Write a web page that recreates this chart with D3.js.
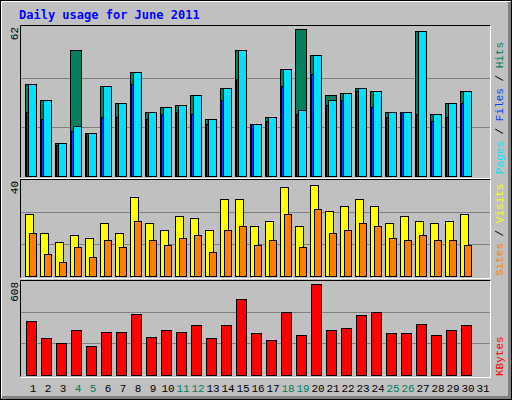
<!DOCTYPE html><html><head><meta charset="utf-8">
<script src="https://cdn.jsdelivr.net/npm/d3@7"></script>
<style>body{margin:0;background:#fff}svg{display:block}</style></head><body>
<script>
const days = d3.range(1,32);
const weekend = [4,5,11,12,18,19,25,26];
const hits  = [39,32,14,53,18,38,31,44,27,29,30,34,24,37,53,22,25,45,62,51,34,35,37,36,27,27,61,26,31,36];
const files = [39,32,14,21,18,38,31,44,27,29,30,34,24,37,53,22,25,45,28,51,32,35,37,36,27,27,61,26,31,36];
const pages = [27,24,13,19,18,25,25,39,24,26,27,26,22,32,41,22,23,38,26,43,30,32,36,29,25,27,26,23,25,31];
const visits= [26,18,14,17,16,22,18,33,22,19,25,24,19,32,32,21,23,37,21,38,27,29,32,29,22,25,23,22,23,26];
const sites = [18,9,6,12,8,15,12,23,15,13,16,17,10,19,21,13,15,26,12,28,18,19,22,21,16,15,17,15,15,13];
const kbytes= [348,234,208,291,183,278,278,393,246,285,278,323,234,317,489,272,221,406,259,584,291,304,387,406,266,266,329,253,291,317];
const maxHits=62, maxVisits=40, maxKB=608;

const W=512,H=400;
const svg=d3.select("body").append("svg").attr("width",W).attr("height",H);
svg.append("rect").attr("width",W).attr("height",H).attr("fill","#c0c0c0");
svg.append("path").attr("d","M1.5,398V1.5H510").attr("stroke","#fff").attr("fill","none");
svg.append("path").attr("d","M2,397.5H509.5V2").attr("stroke","#808080").attr("stroke-width",3).attr("fill","none");
svg.append("rect").attr("x",0.5).attr("y",0.5).attr("width",511).attr("height",399).attr("stroke","#000").attr("fill","none");

svg.append("text").attr("x",19).attr("y",19).text("Daily usage for June 2011")
  .attr("font-family","DejaVu Sans Mono").attr("font-weight","bold").attr("font-size",12).attr("fill","#0000ff");

const x=d3.scaleBand().domain(days).range([25,490]).padding(0);

const panels=[{t:25,b:177},{t:179,b:277},{t:280,b:376}];
panels.forEach(p=>{
  svg.append("path").attr("d",`M20.5,${p.b+0.5}V${p.t+0.5}H490.5`).attr("stroke","#000").attr("fill","none");
  svg.append("path").attr("d",`M20.5,${p.b+1.5}H490.5V${p.t+0.5}`).attr("stroke","#fff").attr("fill","none");
});

function grid(y){[1/3,2/3].forEach(f=>{const yy=Math.round(y(y.domain()[1]*f))+0.5;
  svg.append("line").attr("x1",21).attr("x2",490).attr("y1",yy).attr("y2",yy).attr("stroke","#808080");});}
function bars(data,y,dx0,dx1,color){
  svg.append("g").selectAll("rect").data(data).join("rect")
   .attr("x",(d,i)=>x(i+1)+dx0+0.5).attr("width",dx1-dx0)
   .attr("y",d=>Math.round(y(d))+0.5).attr("height",d=>y(0)-Math.round(y(d)))
   .attr("fill",color).attr("stroke","#000");
}
const y1=d3.scaleLinear().domain([0,maxHits]).range([176,29]);
grid(y1);
bars(hits,y1,0,11,"#00805c");
bars(pages,y1,1,11,"#0040ff");
bars(files,y1,3,11,"#00e0ff");
const y2=d3.scaleLinear().domain([0,maxVisits]).range([276,180]);
grid(y2);
bars(visits,y2,0,8,"#ffff00");
bars(sites,y2,4,11,"#ff8000");
const y3=d3.scaleLinear().domain([0,maxKB]).range([375,280]);
grid(y3);
bars(kbytes,y3,1,11,"#ff0000");

const mono="Liberation Mono";
function vlab(xx,yy,txt,anchor){return svg.append("text").attr("transform",`translate(${xx},${yy}) rotate(-90)`)
  .attr("font-family",mono).attr("font-size",11).attr("text-anchor",anchor).text(txt);}
vlab(18,27,maxHits,"end");
vlab(18,181,maxVisits,"end");
vlab(18,282,maxKB,"end");
let t=vlab(503,174,"","start");
t.append("tspan").attr("fill","#00e0ff").text("Pages");
t.append("tspan").attr("fill","#000").text(" / ");
t.append("tspan").attr("fill","#0040ff").text("Files");
t.append("tspan").attr("fill","#000").text(" / ");
t.append("tspan").attr("fill","#00805c").text("Hits");
t=vlab(503,276,"","start");
t.append("tspan").attr("fill","#ff8000").text("Sites");
t.append("tspan").attr("fill","#000").text(" / ");
t.append("tspan").attr("fill","#ffff00").text("Visits");
vlab(503,376,"KBytes","start").attr("fill","#ff0000");

svg.append("g").selectAll("text").data(days).join("text")
  .attr("x",d=>x(d)+8).attr("y",392).attr("text-anchor","middle")
  .attr("font-family",mono).attr("font-size",11)
  .attr("fill",d=>weekend.includes(d)?"#00805c":"#000").text(d=>d);
</script></body></html>
